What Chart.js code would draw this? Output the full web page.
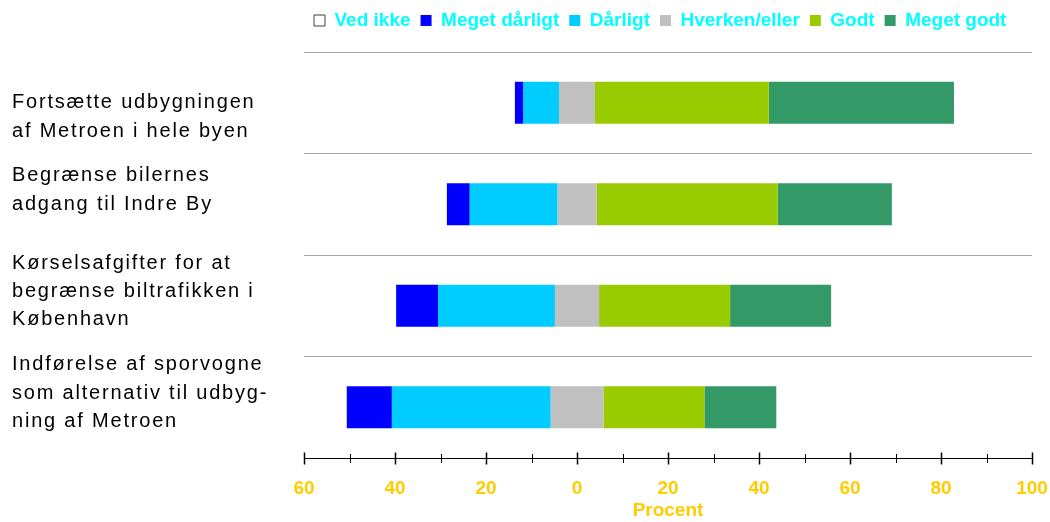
<!DOCTYPE html>
<html><head><meta charset="utf-8">
<script src="https://cdn.jsdelivr.net/npm/chart.js@4.4.1/dist/chart.umd.min.js"></script>
<style>html,body{margin:0;padding:0;background:#fff}#wrap{width:1050px;height:522px;position:relative}</style>
</head><body><div id="wrap"><canvas id="c"></canvas></div>
<script>
// ---- data ----
const categories = [
  ['Fortsætte udbygningen', 'af Metroen i hele byen'],
  ['Begrænse bilernes', 'adgang til Indre By'],
  ['Kørselsafgifter for at', 'begrænse biltrafikken i', 'København'],
  ['Indførelse af sporvogne', 'som alternativ til udbyg-', 'ning af Metroen']
];
const seriesNames = ['Ved ikke', 'Meget dårligt', 'Dårligt', 'Hverken/eller', 'Godt', 'Meget godt'];
const vedIkke       = [3.5, 2.2, 4.4, 5.6];
const megetDaarligt = [1.8, 5.0, 9.2, 9.9];
const daarligt      = [7.9, 19.3, 25.7, 34.9];
const hverken       = [7.9, 8.6, 9.7, 11.6];
const godt          = [38.2, 39.8, 28.8, 22.2];
const megetGodt     = [40.7, 25.1, 22.2, 15.8];
const tickLabels = ['60', '40', '20', '0', '20', '40', '60', '80', '100'];
const axisTitle = 'Procent';
const negSpan = 60; // left part of the axis (0..60 shown as 60..0)

// ---- styles ----
const colors = {
  'Ved ikke': '#FFFFFF', 'Meget dårligt': '#0000FF', 'Dårligt': '#00CCFF',
  'Hverken/eller': '#C0C0C0', 'Godt': '#99CC00', 'Meget godt': '#339966'
};
const gold = '#FFCC00';

// invisible offset so that Hverken/eller is centred on 0
const spacer = categories.map((_, i) => negSpan - megetDaarligt[i] - daarligt[i] - hverken[i] / 2);

const mk = (label, data) => ({ label, data, backgroundColor: colors[label], borderWidth: 0, stack: 's' });
const datasets = [
  { label: '_spacer', data: spacer, backgroundColor: 'rgba(0,0,0,0)', borderWidth: 0, stack: 's' },
  mk('Meget dårligt', megetDaarligt),
  mk('Dårligt', daarligt),
  mk('Hverken/eller', hverken),
  mk('Godt', godt),
  mk('Meget godt', megetGodt),
  mk('Ved ikke', vedIkke)
];

const layoutFix = {
  id: 'layoutFix',
  beforeLayout(chart) {
    const l = chart.legend;
    if (l && !l._patched) {
      const f = l.fit;
      l.fit = function () {
        this.maxWidth = Math.max(this.maxWidth, 800);
        f.call(this);
        this.height += 12;
      };
      l._patched = true;
    }
  },
  beforeDraw(chart) {
    const ys = chart.scales.y;
    if (ys && !ys._patched) {
      const d = ys.drawLabels;
      ys.drawLabels = function (ca) {
        const ctx = this.ctx;
        ctx.save();
        try { ctx.letterSpacing = '1.8px'; } catch (e) {}
        d.call(this, ca);
        ctx.restore();
        try { ctx.letterSpacing = '0px'; } catch (e) {}
      };
      ys._patched = true;
    }
  },
  afterDraw(chart) {
    const xs = chart.scales.x;
    const ctx = chart.ctx;
    const y0 = Math.round(xs.top) + 0.5;
    ctx.save();
    ctx.strokeStyle = '#000';
    for (let v = xs.min; v <= xs.max; v += 10) {
      const px = Math.round(xs.getPixelForValue(v)) + 0.5;
      const major = v % 20 === 0;
      const h = major ? 6 : 4.5;
      ctx.lineWidth = major ? 1.5 : 1;
      ctx.beginPath();
      ctx.moveTo(px, y0 - h);
      ctx.lineTo(px, y0 + h);
      ctx.stroke();
    }
    ctx.restore();
  }
};

const noPad = (s) => { s.paddingTop = 0; s.paddingBottom = 0; s.paddingLeft = 0; s.paddingRight = 0; };

new Chart(document.getElementById('c'), {
  type: 'bar',
  data: { labels: categories, datasets },
  plugins: [layoutFix],
  options: {
    indexAxis: 'y',
    responsive: true,
    maintainAspectRatio: false,
    animation: false,
    devicePixelRatio: 1,
    layout: { padding: { left: 12, right: 18, top: 1, bottom: 0 } },
    datasets: { bar: { categoryPercentage: 1, barPercentage: 0.414 } },
    plugins: {
      tooltip: { enabled: false },
      legend: {
        position: 'top',
        fullSize: false,
        align: 'start',
        labels: {
          boxWidth: 11, boxHeight: 11, padding: 10,
          color: '#00FFFF',
          font: { family: 'Liberation Sans', size: 19, weight: 'bold' },
          filter: (item) => item.text !== '_spacer',
          sort: (a, b) => seriesNames.indexOf(a.text) - seriesNames.indexOf(b.text),
          generateLabels: (chart) => {
            const items = Chart.defaults.plugins.legend.labels.generateLabels(chart);
            items.forEach(it => {
              if (it.text === 'Ved ikke') { it.lineWidth = 1; it.strokeStyle = '#404040'; it.fillStyle = '#FFFFFF'; }
              else { it.lineWidth = 0; }
            });
            return items;
          }
        }
      }
    },
    scales: {
      x: {
        type: 'linear', stacked: true, min: 0, max: 160, position: 'bottom',
        grid: { display: false },
        border: { display: true, color: '#000', width: 1 },
        afterFit: (s) => { noPad(s); s.height = 64; },
        ticks: {
          stepSize: 20, autoSkip: false, maxRotation: 0, padding: 11,
          color: gold, font: { family: 'Liberation Sans', size: 19, weight: 'bold' },
          callback: (v, i) => tickLabels[i]
        },
        title: { display: true, text: axisTitle, color: gold,
          font: { family: 'Liberation Sans', size: 19, weight: 'bold' }, padding: { top: 0, bottom: 0 } }
      },
      y: {
        type: 'category', stacked: true, offset: true,
        grid: { offset: true, drawTicks: false, lineWidth: 1,
          color: (c) => (c.type === 'tick' ? '#A6A6A6' : 'rgba(0,0,0,0)') },
        border: { display: false },
        afterFit: (s) => { s.width = 292; noPad(s); },
        ticks: {
          crossAlign: 'far', padding: 0, autoSkip: false, color: '#000',
          font: { family: 'Liberation Sans', size: 20, lineHeight: 1.42 },
          callback: (v, i) => (i === 0 ? ['', ...categories[i]] : [...categories[i], ''])
        }
      }
    }
  }
});
</script>
</body></html>
